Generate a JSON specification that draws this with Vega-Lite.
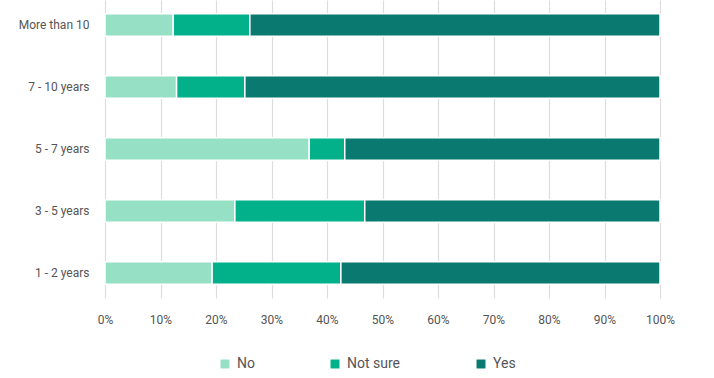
{
  "$schema": "https://vega.github.io/schema/vega-lite/v6.json",
  "autosize": {"type": "none"},
  "padding": {"left": 105, "top": 0, "right": 54, "bottom": 80},
  "width": 555,
  "height": 298,
  "config": {"view": {"stroke": null}, "font": "Roboto"},
  "data": {"values": [
    {"cat": "More than 10", "answer": "No", "o": 1, "v": 12.3},
    {"cat": "More than 10", "answer": "Not sure", "o": 2, "v": 13.8},
    {"cat": "More than 10", "answer": "Yes", "o": 3, "v": 73.9},
    {"cat": "7 - 10 years", "answer": "No", "o": 1, "v": 12.9},
    {"cat": "7 - 10 years", "answer": "Not sure", "o": 2, "v": 12.3},
    {"cat": "7 - 10 years", "answer": "Yes", "o": 3, "v": 74.8},
    {"cat": "5 - 7 years", "answer": "No", "o": 1, "v": 36.8},
    {"cat": "5 - 7 years", "answer": "Not sure", "o": 2, "v": 6.4},
    {"cat": "5 - 7 years", "answer": "Yes", "o": 3, "v": 56.8},
    {"cat": "3 - 5 years", "answer": "No", "o": 1, "v": 23.4},
    {"cat": "3 - 5 years", "answer": "Not sure", "o": 2, "v": 23.4},
    {"cat": "3 - 5 years", "answer": "Yes", "o": 3, "v": 53.2},
    {"cat": "1 - 2 years", "answer": "No", "o": 1, "v": 19.3},
    {"cat": "1 - 2 years", "answer": "Not sure", "o": 2, "v": 23.2},
    {"cat": "1 - 2 years", "answer": "Yes", "o": 3, "v": 57.5}
  ]},
  "mark": {"type": "bar", "stroke": "white", "strokeWidth": 1.5},
  "encoding": {
    "y": {
      "field": "cat", "type": "nominal",
      "sort": ["More than 10", "7 - 10 years", "5 - 7 years", "3 - 5 years", "1 - 2 years"],
      "scale": {"paddingInner": 0.635, "paddingOuter": 0.22},
      "axis": {"title": null, "ticks": false, "domain": false, "labelPadding": 16, "labelFontSize": 12, "labelColor": "#555555", "labelFont": "Roboto"}
    },
    "x": {
      "field": "v", "type": "quantitative", "stack": "normalize",
      "scale": {"domain": [0, 1]},
      "axis": {"title": null, "format": "%", "values": [0,0.1,0.2,0.3,0.4,0.5,0.6,0.7,0.8,0.9,1], "labelOverlap": false, "labelFlush": false, "ticks": false, "domain": false, "grid": true, "gridColor": "#dddddd", "gridWidth": 1.2, "labelPadding": 16, "labelFontSize": 12, "labelColor": "#555555", "labelFont": "Roboto"}
    },
    "color": {
      "field": "answer", "type": "nominal",
      "scale": {"domain": ["No", "Not sure", "Yes"], "range": ["#96e0c5", "#02b189", "#0a7a70"]},
      "legend": {"title": null, "orient": "none", "legendX": 113, "legendY": 357, "direction": "horizontal", "symbolType": "square", "symbolSize": 80, "symbolStrokeWidth": 0, "labelFontSize": 14, "labelColor": "#555555", "labelFont": "Roboto", "columnPadding": 73, "labelOffset": 5}
    },
    "order": {"field": "o", "type": "quantitative"}
  }
}
